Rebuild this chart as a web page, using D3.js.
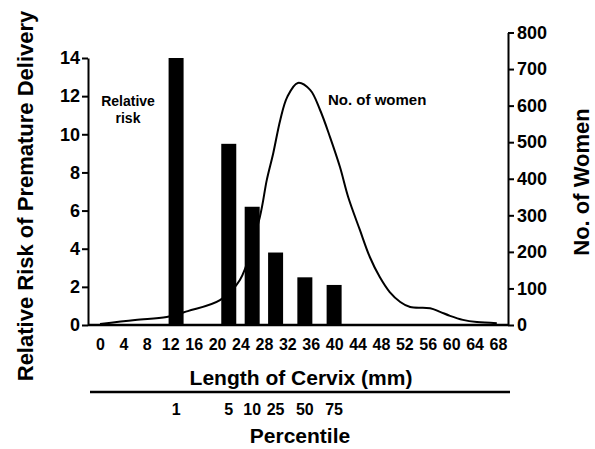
<!DOCTYPE html>
<html>
<head>
<meta charset="utf-8">
<script src="https://d3js.org/d3.v7.min.js"></script>
<style>
  html, body { margin: 0; padding: 0; background: #fff; }
  svg { display: block; font-family: "Liberation Sans", Arial, sans-serif; font-weight: bold; }
</style>
</head>
<body>
<svg width="595" height="449"></svg>
<script>
// cervix length (mm) where each percentile bar sits, and its relative risk
const percentiles = ["1", "5", "10", "25", "50", "75"];
const barLength   = [13, 22, 26, 30, 35, 40];
const relRisk     = [14.0, 9.5, 6.2, 3.8, 2.5, 2.1];

// distribution curve: number of women by cervical length
const curveLength = [0, 6, 11.4, 15, 20.5, 23.9, 27.3, 28.5, 29.6, 30.8, 32, 33.8, 35.9, 37.6, 39.3, 41, 42.4, 44.4, 46.1, 47.8, 49.5, 51.3, 53, 56.4, 58.1, 59.8, 62, 64.4, 67.8];
const curveWomen  = [3, 14, 22, 38, 68, 123, 295, 397, 470, 561, 624, 662, 643, 588, 514, 432, 350, 260, 186, 131, 90, 63, 49, 46, 36, 25, 14, 8, 5];

const xTicks     = d3.range(0, 69, 4);
const riskTicks  = d3.range(0, 15, 2);
const womenTicks = d3.range(0, 801, 100);

const svg = d3.select("svg");
const leftX = 88, rightX = 508, baseY = 325;

const x = d3.scaleLinear().domain([0, 68]).range([100, 498]);
const yRisk = d3.scaleLinear().domain([0, 14]).range([baseY, 58]);
const yWomen = d3.scaleLinear().domain([0, 800]).range([baseY, 32.5]);

// bars
svg.append("g").selectAll("rect")
  .data(relRisk)
  .join("rect")
    .attr("x", (d, i) => x(barLength[i]) - 7.5)
    .attr("width", 15)
    .attr("y", d => yRisk(d))
    .attr("height", d => baseY - yRisk(d))
    .attr("fill", "#000");

// curve
const pts = curveLength.map((d, i) => [d, curveWomen[i]]);
svg.append("path")
  .datum(pts)
  .attr("fill", "none")
  .attr("stroke", "#000")
  .attr("stroke-width", 2)
  .attr("d", d3.line().x(d => x(d[0])).y(d => yWomen(d[1])).curve(d3.curveCatmullRom));

// axes
const styleAxis = g => {
  g.selectAll("path, line").attr("stroke", "#000").attr("stroke-width", 2);
  g.selectAll("text").attr("fill", "#000").style("font-weight", "bold");
};

svg.append("g")
  .attr("transform", `translate(${leftX},0)`)
  .call(d3.axisLeft(yRisk).tickValues(riskTicks).tickSize(6).tickSizeOuter(0).tickPadding(2))
  .call(styleAxis)
  .call(g => g.selectAll("text").style("font-size", "18px"));

svg.append("g")
  .attr("transform", `translate(${rightX},0)`)
  .call(d3.axisRight(yWomen).tickValues(womenTicks).tickSize(6).tickSizeOuter(0).tickPadding(3))
  .call(styleAxis)
  .call(g => g.selectAll("text").style("font-size", "18px"));

svg.append("line")
  .attr("x1", leftX).attr("x2", rightX)
  .attr("y1", baseY).attr("y2", baseY)
  .attr("stroke", "#000").attr("stroke-width", 2.5);

svg.append("g")
  .attr("transform", `translate(0,${baseY})`)
  .call(d3.axisBottom(x).tickValues(xTicks).tickSize(0).tickPadding(14))
  .call(styleAxis)
  .call(g => g.select(".domain").remove())
  .call(g => g.selectAll("text").style("font-size", "16px"));

// percentile scale
svg.append("line")
  .attr("x1", 90).attr("x2", 510)
  .attr("y1", 392).attr("y2", 392)
  .attr("stroke", "#000").attr("stroke-width", 2.5);

svg.append("g").selectAll("text")
  .data(percentiles)
  .join("text")
    .attr("x", (d, i) => x(barLength[i]))
    .attr("y", 415)
    .attr("text-anchor", "middle")
    .style("font-size", "16px")
    .text(d => d);

// titles
svg.append("text")
  .attr("transform", "translate(33,196) rotate(-90)")
  .attr("text-anchor", "middle")
  .style("font-size", "22px")
  .text("Relative Risk of Premature Delivery");

svg.append("text")
  .attr("transform", "translate(589,182) rotate(-90)")
  .attr("text-anchor", "middle")
  .style("font-size", "22px")
  .text("No. of Women");

svg.append("text")
  .attr("x", 301).attr("y", 385)
  .attr("text-anchor", "middle")
  .style("font-size", "21px")
  .text("Length of Cervix (mm)");

svg.append("text")
  .attr("x", 300).attr("y", 443)
  .attr("text-anchor", "middle")
  .style("font-size", "21px")
  .text("Percentile");

// annotations
svg.append("text")
  .attr("x", 128).attr("y", 106)
  .attr("text-anchor", "middle")
  .style("font-size", "14px")
  .text("Relative");
svg.append("text")
  .attr("x", 128).attr("y", 123)
  .attr("text-anchor", "middle")
  .style("font-size", "14px")
  .text("risk");

svg.append("text")
  .attr("x", 328).attr("y", 105)
  .style("font-size", "15px")
  .text("No. of women");
</script>
</body>
</html>
